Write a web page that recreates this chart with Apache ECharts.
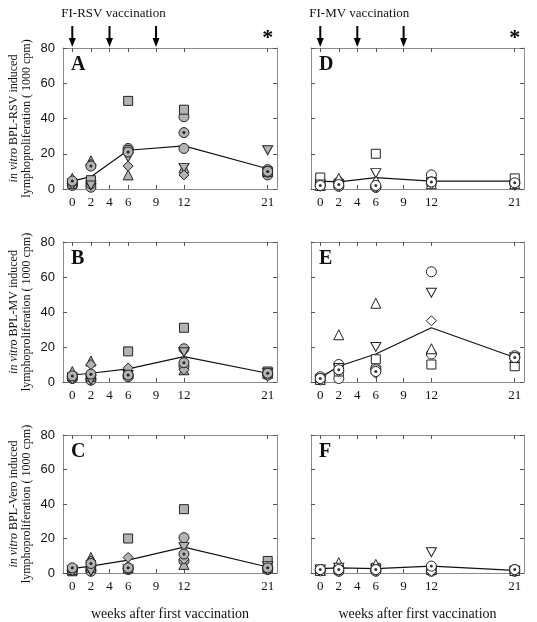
<!DOCTYPE html>
<html>
<head>
<meta charset="utf-8">
<script src="https://cdn.jsdelivr.net/npm/echarts@6/dist/echarts.min.js"></script>
<style>
html,body{margin:0;padding:0;background:#fff;}
#chart{width:537px;height:622px;}
</style>
</head>
<body>
<div id="chart"></div>
<script>
// ---- data ----
var weeks = [0, 2, 6, 12, 21];
var weekTicks = [0, 2, 4, 6, 9, 12, 21];
var yTicks = [0, 20, 40, 60, 80];
var vaccinationWeeks = [0, 4, 9];
var columnTitles = ['FI-RSV vaccination', 'FI-MV vaccination'];
var panelLetters = ['A', 'D', 'B', 'E', 'C', 'F'];
var yNames = ['BPL-RSV induced', 'BPL-MV induced', 'BPL-Vero induced'];
var xName = 'weeks after first vaccination';

// Panel A (FI-RSV, BPL-RSV)
var A_circle    = [2, 1, 23, 41, 11];
var A_circle2   = [3, 3, 22, 23, 8];
var A_square    = [3, 5, 50, 45, 10];
var A_triangle  = [6, 16, 8, 12, 10];
var A_triDown   = [3, 2, 18, 12, 22];
var A_diamond   = [3, 14, 13, 8, 9];
var A_dotCircle = [4.5, 13, 21, 32, 10];
var A_mean      = [4.5, 7, 22, 24.5, 11.5];
// Panel B (FI-RSV, BPL-MV)
var B_circle    = [3, 2, 4, 19, 4];
var B_circle2   = [2, 1, 3, 9, 5];
var B_square    = [3, 3, 17.5, 31, 6];
var B_triangle  = [6, 12, 5, 7, 5];
var B_triDown   = [2, 1, 4, 17, 5];
var B_diamond   = [2, 10, 8, 7, 3.5];
var B_dotCircle = [3.5, 4.5, 4, 11, 5];
var B_mean      = [4, 5, 7.5, 14.5, 5];
// Panel C (FI-RSV, BPL-Vero)
var C_circle    = [2, 2, 3, 20.5, 2];
var C_circle2   = [1.5, 1, 2, 7, 3];
var C_square    = [1, 3, 20, 37, 7];
var C_triangle  = [2, 9, 3, 5, 3];
var C_triDown   = [1.5, 1, 2, 15, 4];
var C_diamond   = [1.5, 7, 9, 8, 2];
var C_dotCircle = [3, 5.5, 3, 11, 3];
var C_mean      = [2.5, 4, 7.5, 15, 3.5];
// Panel D (FI-MV, BPL-RSV)
var D_circle    = [3, 4, 1, 8, 4];
var D_circle2   = [2, 1.5, 1, 4, 3];
var D_square    = [6.5, 3, 20, 4, 6];
var D_triangle  = [2, 6, 5, 3, 3];
var D_triDown   = [2.5, 2, 9, 3.5, 2];
var D_diamond   = [1.5, 1.5, 1, 3, 3];
var D_dotCircle = [2, 2.5, 2, 4, 3.5];
var D_mean      = [4.5, 4, 6.5, 4.5, 4.5];
// Panel E (FI-MV, BPL-MV)
var E_circle    = [3, 10, 8, 63, 15];
var E_circle2   = [1.5, 2, 7, 16, 14];
var E_square    = [2, 6, 13, 10, 9];
var E_triangle  = [1.5, 27, 45, 19, 14];
var E_triDown   = [1, 8, 20, 51, 14];
var E_diamond   = [1, 6, 5, 35, 14];
var E_dotCircle = [2, 7, 6, null, 14];
var E_mean      = [2.5, 9, 16, 31, 14];
// Panel F (FI-MV, BPL-Vero)
var F_circle    = [2, 3, 2, 3, 2];
var F_circle2   = [1.5, 1, 1, 1, 1];
var F_square    = [1.5, 2, 3, 2, 1.5];
var F_triangle  = [1.5, 6, 5, 2, 1.5];
var F_triDown   = [2, 3, 2, 12, 1];
var F_diamond   = [1, 1, 1, 1, 1];
var F_dotCircle = [2, 2, 2, 4, 2];
var F_mean      = [2.5, 3, 2.5, 4, 1.5];

var panels = [
  {letter:'A', col:0, row:0, d:[A_circle,A_circle2,A_square,A_triangle,A_triDown,A_diamond,A_dotCircle], mean:A_mean},
  {letter:'D', col:1, row:0, d:[D_circle,D_circle2,D_square,D_triangle,D_triDown,D_diamond,D_dotCircle], mean:D_mean},
  {letter:'B', col:0, row:1, d:[B_circle,B_circle2,B_square,B_triangle,B_triDown,B_diamond,B_dotCircle], mean:B_mean},
  {letter:'E', col:1, row:1, d:[E_circle,E_circle2,E_square,E_triangle,E_triDown,E_diamond,E_dotCircle], mean:E_mean},
  {letter:'C', col:0, row:2, d:[C_circle,C_circle2,C_square,C_triangle,C_triDown,C_diamond,C_dotCircle], mean:C_mean},
  {letter:'F', col:1, row:2, d:[F_circle,F_circle2,F_square,F_triangle,F_triDown,F_diamond,F_dotCircle], mean:F_mean}
];

// ---- layout ----
var colLeft = [63, 311], colWidth = [214, 213];
var rowTop = [48, 242, 435], rowHeight = [141, 140, 140];
var serif = '"Liberation Serif","Times New Roman",serif';
var sans = '"Liberation Sans",Arial,sans-serif';
var triDownPath = 'path://M0,0 L10,0 L5,9 Z';
var symbols = ['circle','circle','rect','triangle',triDownPath,'diamond','circle'];
var sizes = [10,10,9,10,[10,9],10,10];

var chart = echarts.init(document.getElementById('chart'), null, {renderer:'canvas'});
var grid=[], xAxis=[], yAxis=[], series=[], graphic=[];

panels.forEach(function(p, i){
  grid.push({left:colLeft[p.col], top:rowTop[p.row], width:colWidth[p.col], height:rowHeight[p.row], show:false});
  var axisLineStyle = {color:'#8a8a8a', width:1};
  // bottom x
  xAxis.push({type:'value', gridIndex:i, min:-1, max:22, position:'bottom',
    axisLine:{show:true, onZero:false, lineStyle:axisLineStyle},
    axisTick:{show:true, inside:true, length:4, customValues:weekTicks, lineStyle:{color:'#555'}},
    axisLabel:{show:true, customValues:weekTicks, fontFamily:serif, fontSize:13, color:'#111', margin:7},
    splitLine:{show:false},
    name: p.row===2 ? xName : '', nameLocation:'middle', nameGap:34,
    nameTextStyle:{fontFamily:serif, fontSize:14, color:'#111'}
  });
  // top x
  xAxis.push({type:'value', gridIndex:i, min:-1, max:22, position:'top',
    axisLine:{show:true, onZero:false, lineStyle:axisLineStyle},
    axisTick:{show:true, inside:true, length:4, customValues:weekTicks, lineStyle:{color:'#555'}},
    axisLabel:{show:false}, splitLine:{show:false}
  });
  // left y
  yAxis.push({type:'value', gridIndex:i, min:0, max:80, interval:20, position:'left',
    axisLine:{show:true, onZero:false, lineStyle:axisLineStyle},
    axisTick:{show:true, inside:true, length:4, lineStyle:{color:'#555'}},
    axisLabel:{show:p.col===0, fontFamily:sans, fontSize:13, color:'#111', margin:8},
    splitLine:{show:false},
    name: p.col===0 ? '{i|in vitro} ' + yNames[p.row] + '\nlymphoproliferation ( 1000 cpm)' : '',
    nameLocation:'middle', nameRotate:90, nameGap:30,
    nameTextStyle:{fontFamily:serif, fontSize:12, lineHeight:13, color:'#111', align:'center',
      rich:{i:{fontStyle:'italic', fontFamily:serif, fontSize:12, color:'#111'}}}
  });
  // right y
  yAxis.push({type:'value', gridIndex:i, min:0, max:80, interval:20, position:'right',
    axisLine:{show:true, onZero:false, lineStyle:axisLineStyle},
    axisTick:{show:true, inside:true, length:4, lineStyle:{color:'#555'}},
    axisLabel:{show:false}, splitLine:{show:false}
  });
  var xi = i*2, yi = i*2;
  // mean line
  series.push({type:'line', xAxisIndex:xi, yAxisIndex:yi, z:2, symbol:'none',
    data: weeks.map(function(w,k){return [w, p.mean[k]];}),
    lineStyle:{color:'#111', width:1.2}, silent:true, animation:false});
  var fill = p.col===0 ? '#b3b3b3' : '#ffffff';
  p.d.forEach(function(arr, s){
    series.push({type:'scatter', xAxisIndex:xi, yAxisIndex:yi, z:3+s, symbol:symbols[s], symbolSize:sizes[s],
      data: weeks.map(function(w,k){return arr[k]==null ? null : [w, arr[k]];}).filter(function(v){return v;}),
      itemStyle:{color:fill, borderColor:'#222', borderWidth:1, opacity:1}, animation:false, silent:true});
    if (s===6) {
      series.push({type:'scatter', xAxisIndex:xi, yAxisIndex:yi, z:12, symbol:'circle', symbolSize:3,
        data: weeks.map(function(w,k){return arr[k]==null ? null : [w, arr[k]];}).filter(function(v){return v;}),
        itemStyle:{color:'#000'}, animation:false, silent:true});
    }
  });
  graphic.push({type:'text', left:colLeft[p.col]+8, top:rowTop[p.row]+7,
    style:{text:p.letter, font:'bold 20px ' + serif, fill:'#111'}});
});

chart.setOption({animation:false, backgroundColor:'#fff', grid:grid, xAxis:xAxis, yAxis:yAxis, series:series});

// arrows, titles, asterisks placed from the axis scales of the top panels
[0,1].forEach(function(col){
  var xIdx = col===0 ? 0 : 2; // bottom x axis of panel A / D
  vaccinationWeeks.forEach(function(w){
    var px = chart.convertToPixel({xAxisIndex:xIdx}, w);
    graphic.push({type:'line', shape:{x1:px, y1:26, x2:px, y2:39}, style:{stroke:'#000', lineWidth:2}});
    graphic.push({type:'polygon', shape:{points:[[px-3.5,38],[px+3.5,38],[px,47]]}, style:{fill:'#000'}});
  });
  var p21 = chart.convertToPixel({xAxisIndex:xIdx}, 21);
  graphic.push({type:'text', x:p21, y:38, style:{text:'*', font:'bold 22px ' + serif, fill:'#000', align:'center', verticalAlign:'middle'}});
  var p0 = chart.convertToPixel({xAxisIndex:xIdx}, 0);
  graphic.push({type:'text', x:p0-11, y:14, style:{text:columnTitles[col], font:'13px ' + serif, fill:'#111', align:'left', verticalAlign:'middle'}});
});
chart.setOption({graphic:graphic});
</script>
</body>
</html>
